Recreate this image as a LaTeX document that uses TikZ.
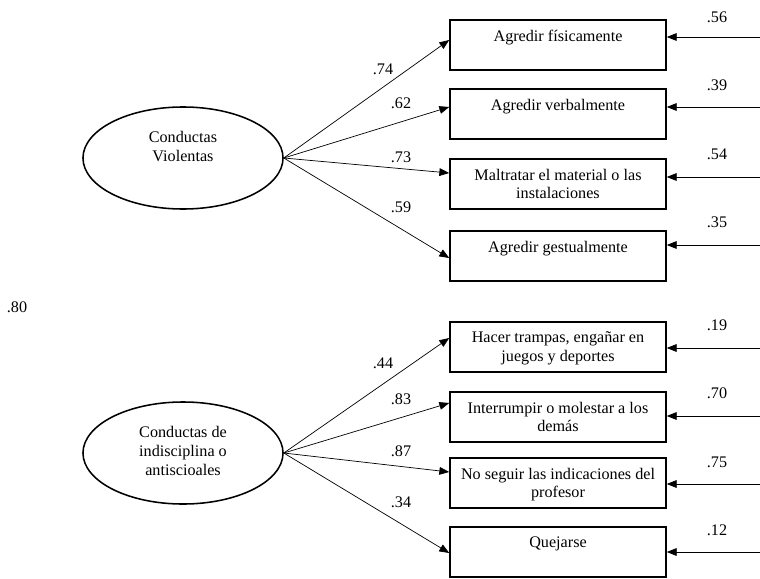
\documentclass[tikz,border=0pt]{standalone}
\usepackage{fontspec}
\setmainfont{Liberation Serif}
\usetikzlibrary{arrows.meta,positioning,shapes.geometric,calc}

\begin{document}
\begin{tikzpicture}[x=0.025cm, y=-0.025cm,
    every node/.style={font=\fontsize{11.5}{13.4}\selectfont},
    latent/.style={draw, ellipse, line width=1.1pt, minimum width=5cm,
      minimum height=2.55cm, inner sep=0pt},
    item/.style={draw, line width=1.1pt, minimum width=5.4cm,
      minimum height=1.25cm, inner sep=0pt},
    txt/.style={align=center, inner sep=0pt},
    coef/.style={inner sep=0pt},
    arr/.style={-{Triangle[length=7pt,width=5.5pt]}, line width=0.5pt},
  ]
    \useasboundingbox (0,0) rectangle (760,578);

    % Factor 1
    \node[latent] (cv) at (183,158) {};
    \node[txt, below=0.63cm of cv.north] (cvT) {Conductas\\Violentas};
    \node[item] (fis) at (558,45) {};
    \node[item] (ver) at (558,114) {};
    \node[item] (mat) at (558,184) {};
    \node[item] (ges) at (558,256) {};
    \node[txt, below=0.26cm of fis.north] (fisT) {Agredir físicamente};
    \node[txt, below=0.26cm of ver.north] (verT) {Agredir verbalmente};
    \node[txt, below=0.26cm of mat.north] (matT) {Maltratar el material o las\\instalaciones};
    \node[txt, below=0.26cm of ges.north] (gesT) {Agredir gestualmente};
    \draw[arr] (cv.east) -- ($(fis.west)+(0,-5)$);
    \draw[arr] (cv.east) -- ($(ver.west)+(0,-7)$);
    \draw[arr] (cv.east) -- ($(mat.west)+(0,-11)$);
    \draw[arr] (cv.east) -- ($(ges.west)+(0,2)$);
    \node[coef] (c1) at (383,69) {.74};
    \node[coef] (c2) at (401,103) {.62};
    \node[coef] (c3) at (401,157) {.73};
    \node[coef] (c4) at (401,207) {.59};

    % Factor 2
    \node[latent] (ci) at (183,453) {};
    \node[txt, below=0.63cm of ci.north] (ciT) {Conductas de\\indisciplina o\\antiscioales};
    \node[item] (tra) at (558,347) {};
    \node[item] (int) at (558,417) {};
    \node[item] (seg) at (558,483) {};
    \node[item] (que) at (558,552) {};
    \node[txt, below=0.26cm of tra.north] (traT) {Hacer trampas, engañar en\\juegos y deportes};
    \node[txt, below=0.26cm of int.north] (intT) {Interrumpir o molestar a los\\demás};
    \node[txt, below=0.26cm of seg.north] (segT) {No seguir las indicaciones del\\profesor};
    \node[txt, below=0.26cm of que.north] (queT) {Quejarse};
    \draw[arr] (ci.east) -- ($(tra.west)+(0,-9)$);
    \draw[arr] (ci.east) -- ($(int.west)+(0,-14)$);
    \draw[arr] (ci.east) -- ($(seg.west)+(0,-11)$);
    \draw[arr] (ci.east) -- ($(que.west)+(0,1)$);
    \node[coef] (c5) at (383,363) {.44};
    \node[coef] (c6) at (401,399) {.83};
    \node[coef] (c7) at (401,451) {.87};
    \node[coef] (c8) at (401,502) {.34};

    % correlation
    \node[coef] (r) at (17,307) {.80};

    % errors
    \coordinate (u1) at (760,37);
    \coordinate (u2) at (760,107);
    \coordinate (u3) at (760,177);
    \coordinate (u4) at (760,245);
    \coordinate (u5) at (760,348);
    \coordinate (u6) at (760,416);
    \coordinate (u7) at (760,484);
    \coordinate (u8) at (760,552);
    \draw[arr] (u1) -- (u1 -| fis.east);
    \draw[arr] (u2) -- (u2 -| ver.east);
    \draw[arr] (u3) -- (u3 -| mat.east);
    \draw[arr] (u4) -- (u4 -| ges.east);
    \draw[arr] (u5) -- (u5 -| tra.east);
    \draw[arr] (u6) -- (u6 -| int.east);
    \draw[arr] (u7) -- (u7 -| seg.east);
    \draw[arr] (u8) -- (u8 -| que.east);
    \node[coef] (e1) at (717,17) {.56};
    \node[coef] (e2) at (717,85) {.39};
    \node[coef] (e3) at (717,154) {.54};
    \node[coef] (e4) at (717,222) {.35};
    \node[coef] (e5) at (717,325) {.19};
    \node[coef] (e6) at (717,393) {.70};
    \node[coef] (e7) at (717,462) {.75};
    \node[coef] (e8) at (717,530) {.12};
  \end{tikzpicture}
\end{document}
